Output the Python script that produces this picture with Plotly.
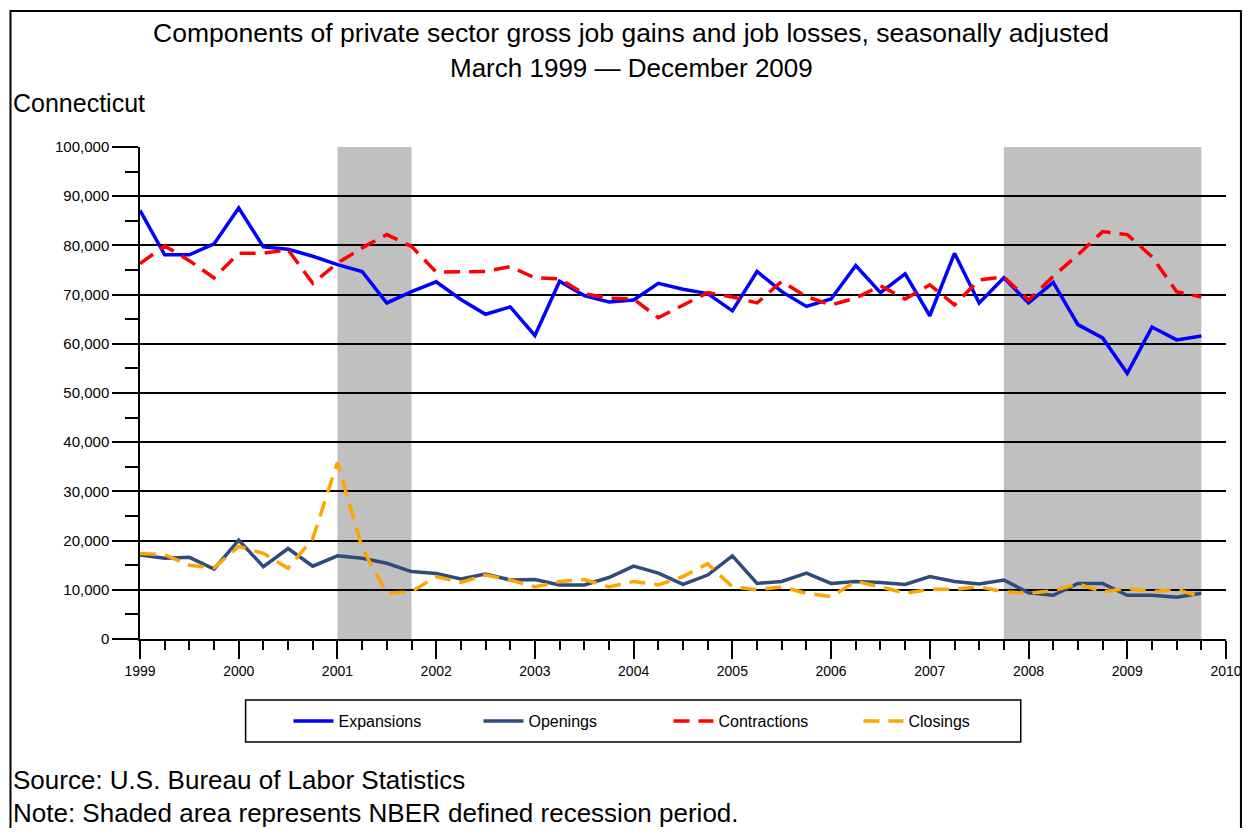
import plotly.graph_objects as go

# ---------------- data (quarterly, March 1999 - December 2009) ----------------
years = list(range(1999, 2010))
quarter_offsets = [0.0, 0.25, 0.5, 0.75]  # Mar, Jun, Sep, Dec
x_quarters = [y + q for y in years for q in quarter_offsets]

expansions = [
    87100, 78100, 78100, 80300, 87600, 79700, 79200, 77800,
    76100, 74700, 68300, 70600, 72600, 69000, 66000, 67500,
    61700, 72700, 69800, 68500, 68900, 72300, 71100, 70200,
    66700, 74700, 70600, 67600, 69100, 75900, 70400, 74200,
    65700, 78400, 68300, 73400, 68300, 72500, 63900, 61200,
    54000, 63400, 60800, 61600,
]
contractions = [
    76300, 79900, 76900, 73400, 78400, 78400, 79100, 72300,
    76400, 79500, 82200, 79800, 74600, 74700, 74700, 75700,
    73400, 73200, 70200, 69300, 69100, 65300, 67900, 70400,
    69500, 68300, 72700, 69600, 67900, 69300, 71800, 69100,
    72000, 67900, 73000, 73600, 68900, 73700, 78100, 82800,
    82200, 77700, 70600, 69500,
]
openings = [
    17100, 16400, 16600, 14200, 20100, 14700, 18400, 14800,
    16900, 16400, 15400, 13700, 13300, 12200, 13200, 12000,
    12100, 11000, 11000, 12500, 14800, 13400, 11100, 13000,
    16900, 11300, 11700, 13400, 11300, 11700, 11500, 11100,
    12700, 11700, 11200, 12000, 9400, 8900, 11300, 11300,
    8900, 8900, 8500, 9300,
]
closings = [
    17400, 17100, 15000, 14500, 18800, 17400, 14400, 20400,
    35900, 18500, 9300, 9600, 12700, 11500, 13000, 12000,
    10600, 11700, 12100, 10600, 11700, 11000, 12700, 15300,
    10600, 10000, 10600, 9300, 8600, 11700, 10600, 9300,
    10100, 10100, 10600, 9600, 9300, 9800, 11200, 9600,
    10300, 9600, 10100, 8500,
]
recessions = [(2001.0, 2001.75), (2007.75, 2009.75)]
y_ticks = list(range(0, 100001, 10000))
x_ticks = list(range(1999, 2011))

# ---------------- layout helpers ----------------
# target positions are in screen pixels; the page adds an 8px body margin and
# the capture is slightly squeezed horizontally (factor SX)
OFF = 8
SX = 0.993
Lr, Rr, Tr, Br = 139, 1229, 147, 639       # plot area on screen
W, H = 1246, 820


def fx(xs):
    return xs / SX - OFF


def px(xs):
    return (xs - Lr) / (Rr - Lr)


def py(ys):
    return (Br - ys) / (Br - Tr)


FONT = "Liberation Sans, Arial, sans-serif"

fig = go.Figure()
fig.add_trace(go.Scatter(x=x_quarters, y=expansions, name="Expansions", mode="lines",
                         line=dict(color="#0000FF", width=3.5)))
fig.add_trace(go.Scatter(x=x_quarters, y=openings, name="Openings", mode="lines",
                         line=dict(color="#2F4B7C", width=3.5)))
fig.add_trace(go.Scatter(x=x_quarters, y=contractions, name="Contractions", mode="lines",
                         line=dict(color="#FF0000", width=3.5, dash="16px,9px")))
fig.add_trace(go.Scatter(x=x_quarters, y=closings, name="Closings", mode="lines",
                         line=dict(color="#FFA500", width=3.5, dash="16px,9px")))

shapes = []
for x0, x1 in recessions:
    shapes.append(dict(type="rect", xref="x", yref="paper", x0=x0, x1=x1, y0=0, y1=1,
                       fillcolor="#C0C0C0", line=dict(width=0), layer="between"))
# legend box
shapes.append(dict(type="rect", xref="paper", yref="paper",
                   x0=px(245), x1=px(1023), y0=py(742), y1=py(700),
                   line=dict(color="black", width=1.5), fillcolor="rgba(0,0,0,0)"))
# outer frame
shapes.append(dict(type="rect", xref="paper", yref="paper",
                   x0=px(9), x1=px(1244), y0=py(850), y1=py(11),
                   line=dict(color="black", width=2), fillcolor="rgba(0,0,0,0)"))

annotations = [
    dict(text="Components of private sector gross job gains and job losses, seasonally adjusted",
         x=px(632), y=py(33), xanchor="center", yanchor="middle", font=dict(size=26.5)),
    dict(text="March 1999 \u2014 December 2009",
         x=px(632), y=py(68), xanchor="center", yanchor="middle", font=dict(size=26)),
    dict(text="Connecticut", x=px(10), y=py(103), xanchor="left", yanchor="middle",
         font=dict(size=25)),
    dict(text="Source: U.S. Bureau of Labor Statistics", x=px(10), y=py(780),
         xanchor="left", yanchor="middle", font=dict(size=26)),
    dict(text="Note: Shaded area represents NBER defined recession period.", x=px(10), y=py(813),
         xanchor="left", yanchor="middle", font=dict(size=26)),
]
for a in annotations:
    a.update(xref="paper", yref="paper", showarrow=False)
    a["font"].update(family=FONT, color="black")

ml = fx(Lr)
mr = W - fx(Rr)

fig.update_layout(
    width=W, height=H,
    margin=dict(l=ml, r=mr, t=Tr - OFF, b=H - (Br - OFF), pad=0),
    paper_bgcolor="white", plot_bgcolor="white",
    font=dict(family=FONT, color="black"),
    shapes=shapes, annotations=annotations,
    showlegend=True,
    legend=dict(orientation="h", x=px(288), y=py(721), xanchor="left", yanchor="middle",
                bgcolor="rgba(0,0,0,0)", borderwidth=0, font=dict(size=16, family=FONT),
                itemwidth=40, entrywidth=135, entrywidthmode="pixels"),
    xaxis=dict(range=[1999, 2010], tickvals=x_ticks, ticktext=[str(v) for v in x_ticks],
               ticks="outside", ticklen=18, tickwidth=1.5, tickcolor="black",
               showline=True, linecolor="black", linewidth=1.5, showgrid=False, zeroline=False,
               tickfont=dict(size=14),
               minor=dict(dtick=0.25, tick0=1999, ticks="outside", ticklen=9, tickwidth=1.5,
                          tickcolor="black", showgrid=False)),
    yaxis=dict(range=[0, 100000], tickvals=y_ticks, tickformat=",",
               ticks="outside", ticklen=26, tickwidth=1.5, tickcolor="black",
               showline=True, linecolor="black", linewidth=1.5,
               showgrid=True, gridcolor="black", gridwidth=1.5, zeroline=False,
               tickfont=dict(size=15),
               minor=dict(dtick=5000, tick0=0, ticks="outside", ticklen=13, tickwidth=1.5,
                          tickcolor="black", showgrid=False)),
)

fig.write_html("out.html")
